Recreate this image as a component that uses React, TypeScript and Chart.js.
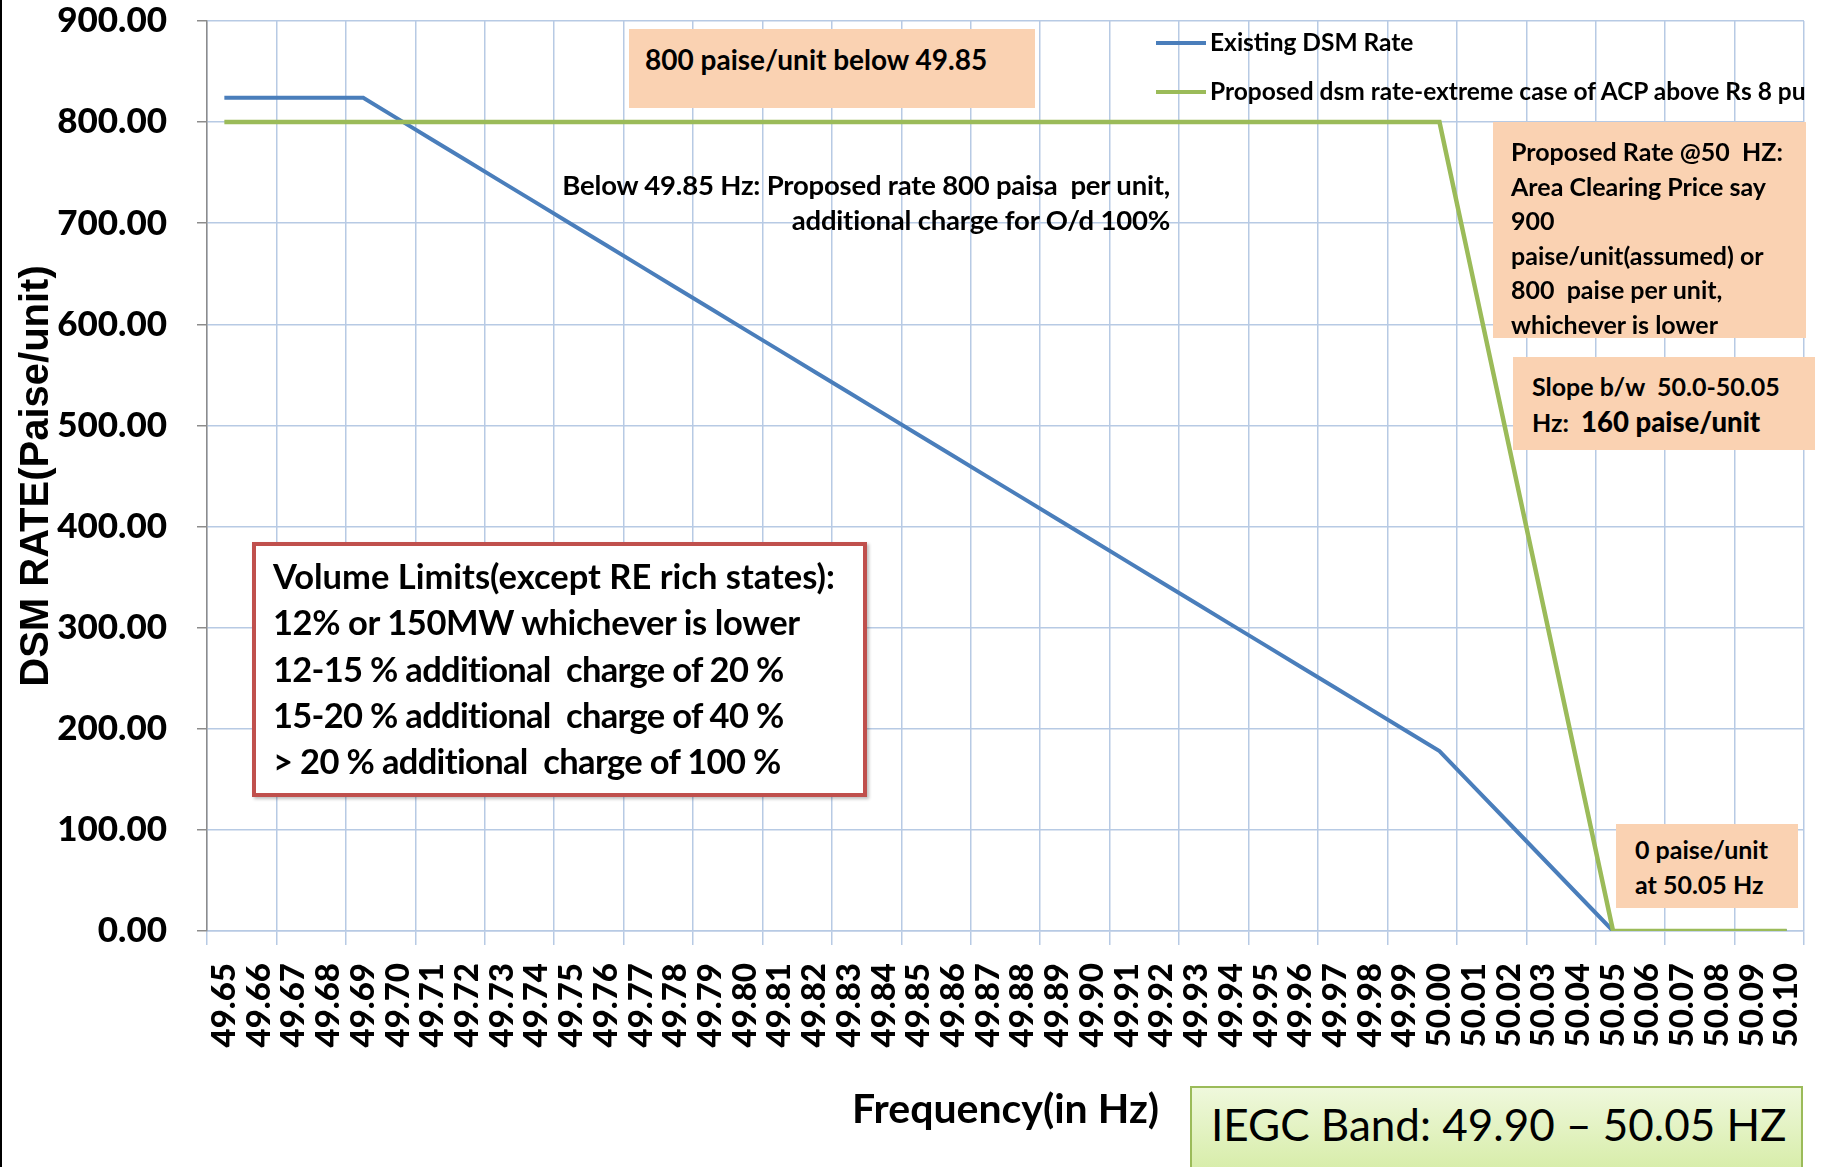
import React, { useEffect, useRef } from "react";
import { Chart, registerables } from "chart.js";

Chart.register(...registerables);

// ---------- data ----------
const frequencies = [
  "49.65", "49.66", "49.67", "49.68", "49.69", "49.70", "49.71", "49.72", "49.73", "49.74",
  "49.75", "49.76", "49.77", "49.78", "49.79", "49.80", "49.81", "49.82", "49.83", "49.84",
  "49.85", "49.86", "49.87", "49.88", "49.89", "49.90", "49.91", "49.92", "49.93", "49.94",
  "49.95", "49.96", "49.97", "49.98", "49.99", "50.00", "50.01", "50.02", "50.03", "50.04",
  "50.05", "50.06", "50.07", "50.08", "50.09", "50.10",
];

const existingDsmRate = [
  824.04, 824.04, 824.04, 824.04, 824.04, 803.2, 782.36, 761.52, 740.68, 719.84,
  699.0, 678.16, 657.32, 636.48, 615.64, 594.8, 573.96, 553.12, 532.28, 511.44,
  490.6, 469.76, 448.92, 428.08, 407.24, 386.4, 365.56, 344.72, 323.88, 303.04,
  282.2, 261.36, 240.52, 219.68, 198.84, 178.0, 142.4, 106.8, 71.2, 35.6,
  0, 0, 0, 0, 0, 0,
];

const proposedDsmRate = [
  800, 800, 800, 800, 800, 800, 800, 800, 800, 800,
  800, 800, 800, 800, 800, 800, 800, 800, 800, 800,
  800, 800, 800, 800, 800, 800, 800, 800, 800, 800,
  800, 800, 800, 800, 800, 800, 640, 480, 320, 160,
  0, 0, 0, 0, 0, 0,
];

const seriesNames = ["Existing DSM Rate", "Proposed dsm rate-extreme case of ACP above Rs 8 pu"];
const yTitle = "DSM RATE(Paise/unit)";
const xTitle = "Frequency(in Hz)";

// ---------- styles ----------
const BLUE = "#4A7EBB";
const GREEN = "#9BBB59";
const GRID = "#B7CAE4";
const AXIS = "#8C8C8C";
const PEACH = "#FAD2B2";
const FONT = "Lato, 'Open Sans', sans-serif";

const abs = (left: number, top: number, extra: React.CSSProperties = {}): React.CSSProperties => ({
  position: "absolute",
  left,
  top,
  boxSizing: "border-box",
  fontFamily: FONT,
  color: "#000",
  whiteSpace: "pre",
  ...extra,
});

export default function App() {
  const canvasRef = useRef<HTMLCanvasElement | null>(null);

  useEffect(() => {
    const canvas = canvasRef.current;
    if (!canvas) return;
    const gridColor = (ctx: any) =>
      ctx.index === undefined || ctx.index % 2 === 0 ? GRID : "rgba(0,0,0,0)";

    const chart = new Chart(canvas, {
      type: "line",
      data: {
        labels: frequencies,
        datasets: [
          {
            label: seriesNames[0],
            data: existingDsmRate,
            borderColor: BLUE,
            backgroundColor: BLUE,
            borderWidth: 4,
            pointRadius: 0,
            tension: 0,
            order: 2,
          },
          {
            label: seriesNames[1],
            data: proposedDsmRate,
            borderColor: GREEN,
            backgroundColor: GREEN,
            borderWidth: 4.5,
            pointRadius: 0,
            tension: 0,
            order: 1,
          },
        ],
      },
      options: {
        responsive: false,
        animation: false,
        devicePixelRatio: 1,
        layout: { padding: { left: 0, top: 21, right: 18, bottom: 0 } },
        plugins: {
          legend: { display: false },
          tooltip: { enabled: false },
          title: { display: false },
        },
        scales: {
          x: {
            type: "category",
            offset: true,
            grid: {
              offset: true,
              color: gridColor,
              tickColor: gridColor,
              lineWidth: 1.5,
              tickLength: 14,
            },
            border: { color: GRID, width: 1.5 },
            ticks: {
              autoSkip: false,
              minRotation: 90,
              maxRotation: 90,
              padding: 18,
              color: "#000",
              font: { family: FONT, weight: "900", size: 33 },
            },
            title: {
              display: true,
              text: xTitle,
              color: "#000",
              font: { family: FONT, weight: "bold", size: 41 },
              padding: { top: 0, bottom: 33 },
            },
            afterFit: (s: any) => {
              s.height = 236;
              s.paddingLeft = 0;
              s.paddingRight = 0;
            },
          },
          y: {
            min: 0,
            max: 900,
            ticks: {
              stepSize: 100,
              padding: 30,
              color: "#000",
              font: { family: FONT, weight: "900", size: 35 },
              callback: (v: any) => Number(v).toFixed(2),
            },
            grid: { color: GRID, lineWidth: 1.5, tickLength: 10, tickColor: AXIS },
            border: { color: AXIS, width: 1.5 },
            title: {
              display: true,
              text: yTitle,
              color: "#000",
              font: { family: "'Liberation Sans', Arial, sans-serif", weight: "bold", size: 40 },
              padding: { top: 13, bottom: 0 },
            },
            afterFit: (s: any) => {
              s.width = 207;
              s.paddingTop = 0;
              s.paddingBottom = 0;
            },
          },
        },
      },
    });
    return () => chart.destroy();
  }, []);

  return (
    <div
      style={{
        position: "absolute",
        left: 0,
        top: 0,
        width: 1822,
        height: 1167,
        overflow: "hidden",
        background: "#fff",
      }}
    >
      <canvas
        ref={canvasRef}
        width={1822}
        height={1167}
        style={{ position: "absolute", left: 0, top: 0, width: 1822, height: 1167 }}
      />
      {/* left frame line */}
      <div style={{ position: "absolute", left: 0, top: 0, width: 2, height: 1167, background: "#000" }} />

      {/* legend */}
      <div style={{ position: "absolute", left: 1156, top: 41, width: 50, height: 4, background: BLUE }} />
      <div style={abs(1210, 27, { fontSize: 24.5, lineHeight: "30px", fontWeight: 700 })}>{seriesNames[0]}</div>
      <div style={{ position: "absolute", left: 1156, top: 90, width: 50, height: 4, background: GREEN }} />
      <div style={abs(1210, 76, { fontSize: 24.5, lineHeight: "30px", fontWeight: 700 })}>{seriesNames[1]}</div>

      {/* 800 paise box */}
      <div
        style={abs(629, 29, {
          width: 406,
          height: 79,
          background: PEACH,
          padding: "13px 0 0 16px",
          fontSize: 28,
          lineHeight: "34px",
          fontWeight: 700,
        })}
      >
        800 paise/unit below 49.85
      </div>

      {/* Below 49.85 text */}
      <div
        style={abs(560, 167, {
          width: 610,
          textAlign: "right",
          fontSize: 27.5,
          lineHeight: "35px",
          fontWeight: 700,
          letterSpacing: -0.2,
        })}
      >
        <div>Below 49.85 Hz: Proposed rate 800 paisa  per unit,</div>
        <div>additional charge for O/d 100%</div>
      </div>

      {/* Proposed rate box */}
      <div
        style={abs(1493, 122, {
          width: 313,
          height: 216,
          background: PEACH,
          padding: "12px 0 0 18px",
          fontSize: 25,
          lineHeight: "34.6px",
          fontWeight: 700,
        })}
      >
        <div>Proposed Rate @50  HZ:</div>
        <div>Area Clearing Price say</div>
        <div>900</div>
        <div>paise/unit(assumed) or</div>
        <div>800  paise per unit,</div>
        <div>whichever is lower</div>
      </div>

      {/* Slope box */}
      <div
        style={abs(1513, 357, {
          width: 302,
          height: 93,
          background: PEACH,
          padding: "12px 0 0 19px",
          fontSize: 25,
          lineHeight: "35px",
          fontWeight: 700,
        })}
      >
        <div>Slope b/w  50.0-50.05</div>
        <div>
          Hz:  <span style={{ fontWeight: 900, fontSize: 27.5 }}>160 paise/unit</span>
        </div>
      </div>

      {/* 0 paise box */}
      <div
        style={abs(1616, 824, {
          width: 182,
          height: 84,
          background: PEACH,
          padding: "8px 0 0 19px",
          fontSize: 25,
          lineHeight: "35px",
          fontWeight: 700,
        })}
      >
        <div>0 paise/unit</div>
        <div>at 50.05 Hz</div>
      </div>

      {/* Volume limits box */}
      <div
        style={abs(252, 542, {
          width: 615,
          height: 255,
          background: "#fff",
          border: "4px solid #C0504D",
          boxShadow: "2px 2px 3px rgba(0,0,0,0.25)",
          padding: "7px 0 0 17px",
          fontSize: 34.5,
          lineHeight: "46.3px",
          fontWeight: 700,
        })}
      >
        <div>Volume Limits(except RE rich states):</div>
        <div style={{ letterSpacing: -0.4 }}>12% or 150MW whichever is lower</div>
        <div style={{ letterSpacing: -0.7 }}>12-15 % additional  charge of 20 %</div>
        <div style={{ letterSpacing: -0.7 }}>15-20 % additional  charge of 40 %</div>
        <div style={{ letterSpacing: -0.65 }}>&gt; 20 % additional  charge of 100 %</div>
      </div>

      {/* IEGC band box */}
      <div
        style={abs(1190, 1086, {
          width: 613,
          height: 100,
          background: "linear-gradient(#EFF8DC, #D3EBA0)",
          border: "2px solid #9BBB59",
          padding: "9px 0 0 19px",
          fontSize: 44,
          lineHeight: "55px",
          fontWeight: 400,
        })}
      >
        IEGC Band: 49.90 – 50.05 HZ
      </div>
    </div>
  );
}
